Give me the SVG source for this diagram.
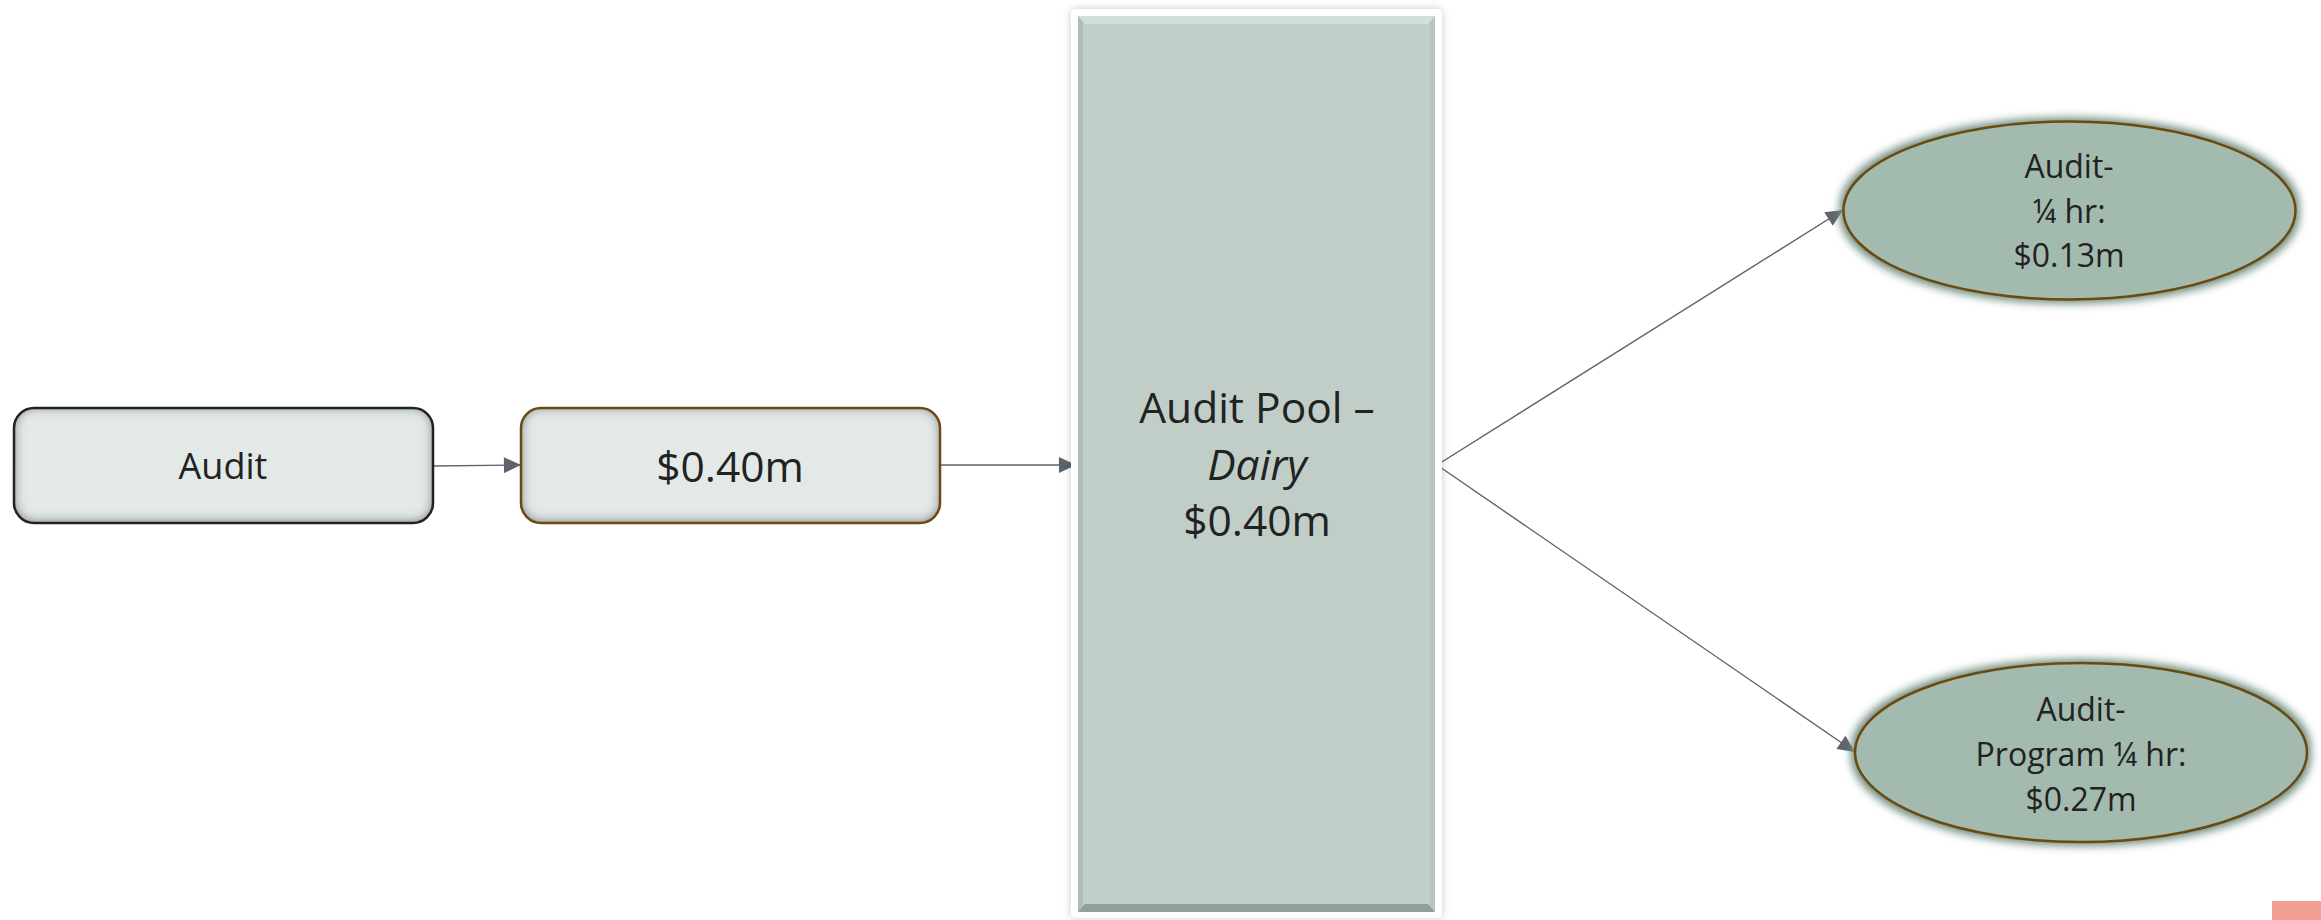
<svg xmlns="http://www.w3.org/2000/svg" width="2321" height="920" viewBox="0 0 2321 920">
  <style>
    .t { font-family: "Open Sans", "Noto Sans", "Liberation Sans", sans-serif; fill: #222222; text-anchor: middle; }
    .conn { stroke: #5d646b; stroke-width: 1.4; fill: none; }
    .boxfill { fill: #e3e9e7; }
  </style>
  <defs>
    <filter id="inset" x="-5%" y="-10%" width="110%" height="120%">
      <feFlood flood-color="#3f4644" flood-opacity="1" result="c"/>
      <feComposite in="c" in2="SourceAlpha" operator="out" result="inv"/>
      <feGaussianBlur in="inv" stdDeviation="6" result="b"/>
      <feOffset in="b" dx="0" dy="-1" result="bo"/>
      <feComposite in="bo" in2="SourceAlpha" operator="in" result="sh"/>
      <feMerge><feMergeNode in="SourceGraphic"/><feMergeNode in="sh"/></feMerge>
    </filter>
    <filter id="frameShadow" x="-5%" y="-5%" width="110%" height="110%">
      <feDropShadow dx="0" dy="0" stdDeviation="4" flood-color="#000000" flood-opacity="0.22"/>
    </filter>
    <filter id="glow" x="-10%" y="-20%" width="120%" height="140%">
      <feMorphology in="SourceAlpha" operator="dilate" radius="4" result="d"/>
      <feGaussianBlur in="d" stdDeviation="4" result="b"/>
      <feFlood flood-color="#6f8c7e" flood-opacity="1"/>
      <feComposite in2="b" operator="in" result="g"/>
      <feMerge><feMergeNode in="g"/><feMergeNode in="SourceGraphic"/></feMerge>
    </filter>
    <marker id="arrow" markerUnits="userSpaceOnUse" markerWidth="18" markerHeight="16" viewBox="0 0 16 15" refX="16" refY="7.5" orient="auto">
      <path d="M0,0 L16,7.5 L0,15 Z" fill="#5d646b"/>
    </marker>
  </defs>

  <rect width="2321" height="920" fill="#ffffff"/>

  <g id="connectors">
    <line class="conn" x1="433" y1="466" x2="521" y2="465" marker-end="url(#arrow)"/>
    <line class="conn" x1="940" y1="465" x2="1076" y2="465" marker-end="url(#arrow)"/>
    <line class="conn" x1="1437" y1="465" x2="1843" y2="210" marker-end="url(#arrow)"/>
    <line class="conn" x1="1437" y1="465" x2="1855" y2="752" marker-end="url(#arrow)"/>
  </g>

  <g id="node-audit">
    <rect class="boxfill" x="14" y="408" width="419" height="115" rx="20" filter="url(#inset)"/>
    <rect x="14" y="408" width="419" height="115" rx="20" fill="none" stroke="#222222" stroke-width="2.5"/>
    <text class="t" x="223" y="479" font-size="36">Audit</text>
  </g>

  <g id="node-amount">
    <rect class="boxfill" x="521" y="408" width="419" height="115" rx="20" filter="url(#inset)"/>
    <rect x="521" y="408" width="419" height="115" rx="20" fill="none" stroke="#6b4a10" stroke-width="2.5"/>
    <text class="t" x="730" y="482" font-size="42.5">$0.40m</text>
  </g>

  <g id="node-pool">
    <rect x="1071" y="9" width="371" height="909" rx="5" fill="#ffffff" filter="url(#frameShadow)"/>
    <rect x="1078" y="16" width="357" height="896" fill="#c0cec7"/>
    <polygon points="1078,16 1435,16 1428,24 1085,24" fill="#d2dfd9"/>
    <polygon points="1078,912 1435,912 1428,904 1085,904" fill="#909f98"/>
    <polygon points="1078,16 1083,22 1083,906 1078,912" fill="#aebdb6"/>
    <polygon points="1435,16 1430,22 1430,906 1435,912" fill="#b6c5be"/>
    <text class="t" x="1257" y="423" font-size="42.5">Audit Pool –</text>
    <text class="t" x="1257" y="480" font-size="42.5" font-style="italic">Dairy</text>
    <text class="t" x="1257" y="536" font-size="42.5">$0.40m</text>
  </g>

  <g id="node-audit-quarter">
    <ellipse cx="2069.5" cy="210.5" rx="226" ry="89" fill="#a3baaf" filter="url(#glow)"/>
    <ellipse cx="2069.5" cy="210.5" rx="226" ry="89" fill="none" stroke="#6b4a10" stroke-width="2.5"/>
    <text class="t" x="2069" y="178" font-size="32">Audit-</text>
    <text class="t" x="2069" y="223" font-size="32">¼ hr:</text>
    <text class="t" x="2069" y="267" font-size="32">$0.13m</text>
  </g>

  <g id="node-audit-program">
    <ellipse cx="2081" cy="752.5" rx="226" ry="89.5" fill="#a3baaf" filter="url(#glow)"/>
    <ellipse cx="2081" cy="752.5" rx="226" ry="89.5" fill="none" stroke="#6b4a10" stroke-width="2.5"/>
    <text class="t" x="2081" y="721" font-size="32">Audit-</text>
    <text class="t" x="2081" y="766" font-size="32">Program ¼ hr:</text>
    <text class="t" x="2081" y="811" font-size="32">$0.27m</text>
  </g>

  <rect id="corner-mark" x="2272" y="901" width="49" height="19" fill="#f49f93"/>
</svg>
